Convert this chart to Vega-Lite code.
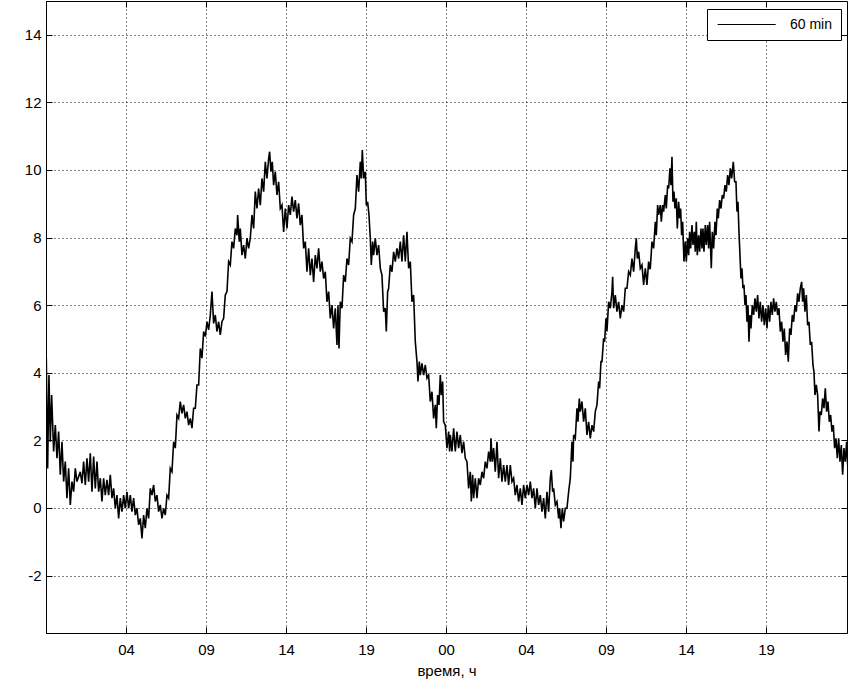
{
"$schema":"https://vega.github.io/schema/vega-lite/v6.json",
"width":801,"height":632,
"autosize":{"type":"none"},
"padding":{"left":46,"top":1,"right":1,"bottom":49},
"background":"white",
"config":{"view":{"stroke":"black","strokeWidth":1},"font":"Liberation Sans"},
"datasets":{"s":[
{"t":0.018,"v":4.43},{"t":0.098,"v":1.17},{"t":0.178,"v":3.93},{"t":0.258,"v":1.96},{"t":0.338,"v":3.34},{"t":0.458,"v":1.67},{"t":0.558,"v":2.45},{"t":0.658,"v":1.47},{"t":0.758,"v":2.26},{"t":0.858,"v":0.98},{"t":0.958,"v":1.96},{"t":1.058,"v":0.78},{"t":1.158,"v":1.37},{"t":1.258,"v":0.29},{"t":1.358,"v":1.17},{"t":1.458,"v":0.09},{"t":1.558,"v":0.78},{"t":1.658,"v":0.48},{"t":1.758,"v":1.17},{"t":1.858,"v":0.78},{"t":2.058,"v":1.07},{"t":2.158,"v":0.73},{"t":2.258,"v":1.37},{"t":2.358,"v":0.68},{"t":2.458,"v":1.47},{"t":2.558,"v":0.78},{"t":2.658,"v":1.62},{"t":2.758,"v":0.48},{"t":2.858,"v":1.52},{"t":2.958,"v":0.58},{"t":3.058,"v":1.37},{"t":3.158,"v":0.48},{"t":3.258,"v":0.88},{"t":3.358,"v":0.19},{"t":3.458,"v":0.88},{"t":3.558,"v":0.38},{"t":3.658,"v":0.83},{"t":3.758,"v":0.38},{"t":3.858,"v":0.98},{"t":3.958,"v":0.29},{"t":4.058,"v":0.58},{"t":4.158,"v":-0.01},{"t":4.258,"v":0.38},{"t":4.358,"v":-0.31},{"t":4.458,"v":0.29},{"t":4.558,"v":-0.11},{"t":4.658,"v":0.38},{"t":4.758,"v":-0.01},{"t":4.858,"v":0.48},{"t":4.958,"v":-0.01},{"t":5.058,"v":0.38},{"t":5.158,"v":-0.11},{"t":5.258,"v":0.29},{"t":5.358,"v":-0.21},{"t":5.458,"v":-0.01},{"t":5.558,"v":-0.5},{"t":5.658,"v":-0.31},{"t":5.758,"v":-0.9},{"t":5.858,"v":-0.21},{"t":5.958,"v":-0.6},{"t":6.058,"v":-0.01},{"t":6.158,"v":-0.31},{"t":6.258,"v":0.58},{"t":6.358,"v":0.38},{"t":6.458,"v":0.68},{"t":6.558,"v":0.19},{"t":6.658,"v":0.38},{"t":6.758,"v":-0.11},{"t":6.858,"v":0.09},{"t":6.958,"v":-0.31},{"t":7.058,"v":-0.01},{"t":7.158,"v":-0.21},{"t":7.258,"v":0.38},{"t":7.358,"v":0.29},{"t":7.458,"v":1.17},{"t":7.558,"v":1.07},{"t":7.658,"v":1.96},{"t":7.758,"v":1.77},{"t":7.858,"v":2.75},{"t":7.958,"v":2.65},{"t":8.058,"v":3.15},{"t":8.158,"v":2.8},{"t":8.258,"v":3.05},{"t":8.358,"v":2.65},{"t":8.458,"v":2.85},{"t":8.558,"v":2.45},{"t":8.658,"v":2.65},{"t":8.758,"v":2.36},{"t":8.858,"v":2.95},{"t":8.958,"v":2.95},{"t":9.058,"v":3.64},{"t":9.158,"v":3.64},{"t":9.258,"v":4.72},{"t":9.358,"v":4.43},{"t":9.458,"v":5.22},{"t":9.558,"v":5.07},{"t":9.658,"v":5.51},{"t":9.758,"v":5.27},{"t":9.858,"v":5.71},{"t":9.958,"v":6.4},{"t":10.058,"v":5.46},{"t":10.158,"v":5.71},{"t":10.258,"v":5.22},{"t":10.358,"v":5.51},{"t":10.458,"v":5.12},{"t":10.558,"v":5.51},{"t":10.658,"v":5.61},{"t":10.758,"v":6.3},{"t":10.858,"v":6.4},{"t":10.958,"v":7.29},{"t":11.058,"v":7.19},{"t":11.158,"v":7.88},{"t":11.258,"v":7.68},{"t":11.358,"v":8.27},{"t":11.458,"v":8.07},{"t":11.498,"v":8.67},{"t":11.598,"v":7.88},{"t":11.658,"v":8.27},{"t":11.758,"v":7.48},{"t":11.858,"v":7.78},{"t":11.958,"v":7.38},{"t":12.058,"v":7.98},{"t":12.158,"v":7.68},
{"t":12.258,"v":7.98},{"t":12.358,"v":8.67},{"t":12.458,"v":8.27},{"t":12.558,"v":9.36},{"t":12.658,"v":8.86},{"t":12.758,"v":9.45},{"t":12.858,"v":8.96},{"t":12.958,"v":9.75},{"t":13.058,"v":9.36},{"t":13.158,"v":10.24},{"t":13.258,"v":9.75},{"t":13.358,"v":10.34},{"t":13.418,"v":10.54},{"t":13.498,"v":9.95},{"t":13.578,"v":10.24},{"t":13.658,"v":9.55},{"t":13.758,"v":9.95},{"t":13.858,"v":9.26},{"t":13.958,"v":9.65},{"t":14.058,"v":8.86},{"t":14.158,"v":8.96},{"t":14.258,"v":8.17},{"t":14.358,"v":8.86},{"t":14.458,"v":8.27},{"t":14.558,"v":8.96},{"t":14.658,"v":8.67},{"t":14.758,"v":9.21},{"t":14.858,"v":8.77},{"t":14.958,"v":9.11},{"t":15.058,"v":8.57},{"t":15.158,"v":9.01},{"t":15.258,"v":8.37},{"t":15.358,"v":8.67},{"t":15.458,"v":7.68},{"t":15.558,"v":7.88},{"t":15.658,"v":6.99},{"t":15.758,"v":7.68},{"t":15.858,"v":6.89},{"t":15.958,"v":7.38},{"t":16.058,"v":6.69},{"t":16.158,"v":7.48},{"t":16.258,"v":7.09},{"t":16.358,"v":7.68},{"t":16.458,"v":6.99},{"t":16.558,"v":7.29},{"t":16.658,"v":6.79},{"t":16.758,"v":6.99},{"t":16.858,"v":6.1},{"t":16.958,"v":6.4},{"t":17.058,"v":5.61},{"t":17.158,"v":6.0},{"t":17.258,"v":5.31},{"t":17.358,"v":5.91},{"t":17.458,"v":4.82},{"t":17.518,"v":6.0},{"t":17.578,"v":4.72},{"t":17.658,"v":6.1},{"t":17.758,"v":5.91},{"t":17.858,"v":6.89},{"t":17.958,"v":6.69},{"t":18.058,"v":7.38},{"t":18.158,"v":7.19},{"t":18.258,"v":7.98},{"t":18.358,"v":7.88},{"t":18.458,"v":8.67},{"t":18.558,"v":8.86},{"t":18.658,"v":9.85},{"t":18.758,"v":9.36},{"t":18.858,"v":10.24},{"t":18.918,"v":9.75},{"t":18.978,"v":10.59},{"t":19.058,"v":9.75},{"t":19.158,"v":9.95},{"t":19.218,"v":8.96},{"t":19.298,"v":9.06},{"t":19.378,"v":8.67},{"t":19.458,"v":7.98},{"t":19.518,"v":7.19},{"t":19.598,"v":7.88},{"t":19.658,"v":7.48},{"t":19.758,"v":7.98},{"t":19.858,"v":7.48},{"t":19.958,"v":7.78},{"t":20.058,"v":7.09},{"t":20.158,"v":6.89},{"t":20.258,"v":5.81},{"t":20.358,"v":5.91},{"t":20.418,"v":5.22},{"t":20.498,"v":6.4},{"t":20.558,"v":6.5},{"t":20.658,"v":7.19},{"t":20.758,"v":6.99},{"t":20.858,"v":7.58},{"t":20.958,"v":7.29},{"t":21.058,"v":7.68},{"t":21.158,"v":7.38},{"t":21.258,"v":7.88},{"t":21.358,"v":7.29},{"t":21.458,"v":8.07},{"t":21.558,"v":7.29},{"t":21.658,"v":8.17},{"t":21.758,"v":7.09},{"t":21.858,"v":7.29},{"t":21.958,"v":6.1},{"t":22.058,"v":6.3},{"t":22.158,"v":4.92},{"t":22.258,"v":4.33},{"t":22.318,"v":3.74},{"t":22.398,"v":4.33},{"t":22.458,"v":3.93},{"t":22.558,"v":4.28},{"t":22.658,"v":3.93},{"t":22.758,"v":4.23},{"t":22.858,"v":3.84},{"t":22.958,"v":3.93},{"t":23.058,"v":3.15},{"t":23.158,"v":3.44},{"t":23.258,"v":2.65},{"t":23.358,"v":3.05},{"t":23.418,"v":2.36},{"t":23.498,"v":3.34},{"t":23.578,"v":3.05},{"t":23.658,"v":3.93},{"t":23.718,"v":3.34},{"t":23.798,"v":3.74},{"t":23.858,"v":2.55},{"t":23.958,"v":2.45},{"t":24.058,"v":1.77},{"t":24.158,"v":2.26},{"t":24.218,"v":1.67},
{"t":24.258,"v":2.16},{"t":24.358,"v":1.67},{"t":24.458,"v":2.36},{"t":24.558,"v":1.67},{"t":24.658,"v":2.26},{"t":24.758,"v":1.77},{"t":24.858,"v":2.16},{"t":24.958,"v":1.62},{"t":25.058,"v":1.96},{"t":25.158,"v":1.47},{"t":25.258,"v":1.37},{"t":25.358,"v":0.58},{"t":25.458,"v":1.07},{"t":25.518,"v":0.19},{"t":25.598,"v":0.98},{"t":25.658,"v":0.29},{"t":25.758,"v":0.88},{"t":25.858,"v":0.29},{"t":25.958,"v":0.88},{"t":26.058,"v":0.68},{"t":26.158,"v":1.07},{"t":26.258,"v":0.88},{"t":26.358,"v":1.37},{"t":26.458,"v":1.17},{"t":26.558,"v":1.67},{"t":26.658,"v":1.37},{"t":26.698,"v":2.06},{"t":26.778,"v":1.37},{"t":26.858,"v":1.77},{"t":26.958,"v":1.07},{"t":27.058,"v":1.96},{"t":27.158,"v":0.88},{"t":27.258,"v":1.47},{"t":27.358,"v":0.78},{"t":27.458,"v":1.27},{"t":27.558,"v":0.78},{"t":27.658,"v":1.27},{"t":27.758,"v":0.68},{"t":27.858,"v":1.27},{"t":27.958,"v":0.78},{"t":28.058,"v":0.88},{"t":28.158,"v":0.38},{"t":28.258,"v":0.68},{"t":28.358,"v":0.19},{"t":28.458,"v":0.58},{"t":28.558,"v":0.09},{"t":28.658,"v":0.68},{"t":28.758,"v":0.29},{"t":28.858,"v":0.68},{"t":28.958,"v":0.38},{"t":29.058,"v":0.78},{"t":29.158,"v":0.29},{"t":29.258,"v":0.58},{"t":29.358,"v":-0.01},{"t":29.458,"v":0.58},{"t":29.558,"v":0.09},{"t":29.658,"v":0.38},{"t":29.758,"v":-0.11},{"t":29.858,"v":0.29},{"t":29.958,"v":-0.31},{"t":30.058,"v":0.48},{"t":30.158,"v":-0.11},{"t":30.258,"v":0.88},{"t":30.318,"v":1.12},{"t":30.398,"v":0.48},{"t":30.458,"v":0.58},{"t":30.558,"v":0.09},{"t":30.658,"v":0.19},{"t":30.758,"v":-0.31},{"t":30.818,"v":-0.01},{"t":30.898,"v":-0.6},{"t":30.978,"v":-0.01},{"t":31.058,"v":-0.4},{"t":31.158,"v":-0.01},{"t":31.258,"v":-0.01},{"t":31.358,"v":0.48},{"t":31.458,"v":0.88},{"t":31.558,"v":1.96},{"t":31.618,"v":1.37},{"t":31.658,"v":2.16},{"t":31.758,"v":2.06},{"t":31.858,"v":2.95},{"t":31.918,"v":2.55},{"t":31.998,"v":3.24},{"t":32.058,"v":2.85},{"t":32.158,"v":3.15},{"t":32.258,"v":2.55},{"t":32.358,"v":2.95},{"t":32.458,"v":2.16},{"t":32.558,"v":2.55},{"t":32.658,"v":2.06},{"t":32.758,"v":2.45},{"t":32.858,"v":2.26},{"t":32.958,"v":2.85},{"t":33.058,"v":3.05},{"t":33.158,"v":3.74},{"t":33.218,"v":3.54},{"t":33.298,"v":4.33},{"t":33.358,"v":4.33},{"t":33.458,"v":5.02},{"t":33.518,"v":4.92},{"t":33.598,"v":5.61},{"t":33.658,"v":5.22},{"t":33.758,"v":6.1},{"t":33.858,"v":5.91},{"t":33.958,"v":6.4},{"t":33.998,"v":6.84},{"t":34.058,"v":5.91},{"t":34.158,"v":6.3},{"t":34.258,"v":5.81},{"t":34.358,"v":6.1},{"t":34.458,"v":5.61},{"t":34.558,"v":6.0},{"t":34.658,"v":5.81},{"t":34.758,"v":6.5},{"t":34.858,"v":6.5},{"t":34.958,"v":6.99},{"t":35.058,"v":6.89},{"t":35.158,"v":7.38},{"t":35.258,"v":6.99},{"t":35.358,"v":7.68},{"t":35.418,"v":7.98},{"t":35.478,"v":7.38},{"t":35.558,"v":7.58},{"t":35.658,"v":7.09},{"t":35.758,"v":7.19},{"t":35.858,"v":6.6},{"t":35.958,"v":7.09},{"t":36.058,"v":6.6},{"t":36.158,"v":7.29},{"t":36.218,"v":7.09},
{"t":36.258,"v":7.09},{"t":36.358,"v":7.88},{"t":36.458,"v":7.68},{"t":36.558,"v":8.47},{"t":36.618,"v":8.07},{"t":36.698,"v":8.96},{"t":36.758,"v":8.67},{"t":36.858,"v":8.96},{"t":36.918,"v":8.47},{"t":36.998,"v":8.96},{"t":37.058,"v":8.77},{"t":37.158,"v":9.26},{"t":37.218,"v":8.86},{"t":37.298,"v":9.55},{"t":37.358,"v":9.45},{"t":37.438,"v":10.05},{"t":37.498,"v":9.55},{"t":37.558,"v":10.39},{"t":37.618,"v":9.06},{"t":37.678,"v":9.36},{"t":37.738,"v":8.86},{"t":37.818,"v":9.16},{"t":37.878,"v":8.27},{"t":37.958,"v":9.06},{"t":38.018,"v":8.57},{"t":38.078,"v":8.86},{"t":38.138,"v":8.07},{"t":38.198,"v":8.47},{"t":38.278,"v":7.29},{"t":38.358,"v":7.88},{"t":38.418,"v":7.29},{"t":38.498,"v":7.98},{"t":38.558,"v":7.48},{"t":38.618,"v":8.17},{"t":38.678,"v":7.68},{"t":38.758,"v":8.37},{"t":38.818,"v":7.78},{"t":38.898,"v":8.17},{"t":38.958,"v":7.58},{"t":39.018,"v":8.47},{"t":39.078,"v":7.48},{"t":39.158,"v":8.07},{"t":39.218,"v":7.58},{"t":39.298,"v":8.27},{"t":39.358,"v":7.68},{"t":39.418,"v":8.27},{"t":39.478,"v":7.58},{"t":39.558,"v":8.37},{"t":39.618,"v":7.78},{"t":39.698,"v":8.37},{"t":39.758,"v":7.68},{"t":39.818,"v":8.47},{"t":39.918,"v":7.09},{"t":39.978,"v":8.17},{"t":40.058,"v":7.68},{"t":40.138,"v":8.47},{"t":40.198,"v":8.07},{"t":40.278,"v":8.86},{"t":40.338,"v":8.57},{"t":40.418,"v":9.11},{"t":40.498,"v":8.86},{"t":40.578,"v":9.26},{"t":40.658,"v":9.16},{"t":40.738,"v":9.55},{"t":40.818,"v":9.36},{"t":40.898,"v":9.85},{"t":40.978,"v":9.55},{"t":41.058,"v":10.05},{"t":41.138,"v":9.75},{"t":41.238,"v":10.24},{"t":41.318,"v":9.65},{"t":41.398,"v":9.65},{"t":41.458,"v":8.77},{"t":41.518,"v":9.06},{"t":41.578,"v":8.17},{"t":41.638,"v":7.48},{"t":41.698,"v":6.79},{"t":41.758,"v":7.09},{"t":41.818,"v":6.5},{"t":41.878,"v":6.6},{"t":41.938,"v":6.0},{"t":41.998,"v":6.3},{"t":42.058,"v":5.51},{"t":42.118,"v":6.0},{"t":42.178,"v":4.92},{"t":42.238,"v":5.71},{"t":42.298,"v":5.31},{"t":42.378,"v":6.0},{"t":42.458,"v":5.71},{"t":42.538,"v":6.2},{"t":42.618,"v":5.81},{"t":42.698,"v":6.3},{"t":42.778,"v":5.61},{"t":42.858,"v":6.1},{"t":42.938,"v":5.51},{"t":43.018,"v":6.0},{"t":43.098,"v":5.41},{"t":43.178,"v":5.91},{"t":43.258,"v":5.31},{"t":43.338,"v":6.0},{"t":43.418,"v":5.51},{"t":43.498,"v":6.1},{"t":43.578,"v":5.71},{"t":43.658,"v":6.2},{"t":43.738,"v":5.81},{"t":43.818,"v":6.1},{"t":43.898,"v":5.71},{"t":43.978,"v":5.91},{"t":44.058,"v":5.22},{"t":44.138,"v":5.51},{"t":44.218,"v":4.92},{"t":44.298,"v":5.31},{"t":44.378,"v":4.53},{"t":44.458,"v":4.92},{"t":44.538,"v":4.33},{"t":44.618,"v":5.31},{"t":44.698,"v":5.12},{"t":44.778,"v":5.71},{"t":44.858,"v":5.51},{"t":44.938,"v":6.0},{"t":45.018,"v":5.81},{"t":45.098,"v":6.35},{"t":45.178,"v":6.1},{"t":45.258,"v":6.5},{"t":45.338,"v":6.69},{"t":45.398,"v":6.1},{"t":45.458,"v":6.5},{"t":45.538,"v":5.81},{"t":45.618,"v":6.3},{"t":45.698,"v":5.41},{"t":45.778,"v":5.51},{"t":45.858,"v":4.82},{"t":45.938,"v":4.92},{"t":46.018,"v":4.23},{"t":46.078,"v":4.03},{"t":46.138,"v":3.34},{"t":46.218,"v":3.64},{"t":46.298,"v":3.34},{"t":46.378,"v":2.26},{"t":46.438,"v":2.85},{"t":46.518,"v":2.75},{"t":46.598,"v":3.24},{"t":46.678,"v":2.95},{"t":46.758,"v":3.54},{"t":46.838,"v":2.85},{"t":46.918,"v":3.15},{"t":46.998,"v":2.55},{"t":47.078,"v":2.75},{"t":47.158,"v":2.26},{"t":47.238,"v":2.45},{"t":47.318,"v":1.77},{"t":47.398,"v":2.06},{"t":47.478,"v":1.47},{"t":47.558,"v":2.06},{"t":47.638,"v":1.37},{"t":47.718,"v":1.86},{"t":47.798,"v":0.98},{"t":47.878,"v":1.77},{"t":47.958,"v":1.37},{"t":48.038,"v":1.96},{"t":48.098,"v":1.27}
]},
"data":{"name":"s"},
"resolve":{"axis":{"x":"independent","y":"independent"}},
"layer":[
{"mark":{"type":"line","strokeWidth":1.6,"clip":true},
"encoding":{
"x":{"field":"t","type":"quantitative","scale":{"domain":[0,48.06],"nice":false,"zero":false},
"axis":{"orient":"bottom","values":[4.8,9.6,14.4,19.2,24,28.8,33.6,38.4,43.2],"labelExpr":"pad(toString(floor(datum.value % 24)), 2, '0', 'left')","title":"время, ч","titleFont":"Liberation Sans","titleFontSize":15,"titleFontWeight":"normal","titleColor":"black","titlePadding":6,"labelFont":"Liberation Sans","labelFontSize":15,"labelColor":"black","labelPadding":15,"tickSize":-6,"tickColor":"black","domainColor":"black","grid":true,"gridColor":"black","gridDash":[1,3],"gridOpacity":1,"labelFlush":false}},
"y":{"field":"v","type":"quantitative","scale":{"domain":[-3.7,15],"nice":false,"zero":false},
"axis":{"orient":"left","values":[-2,0,2,4,6,8,10,12,14],"labelExpr":"toString(datum.value)","title":null,"labelFont":"Liberation Sans","labelFontSize":15,"labelColor":"black","labelPadding":11,"tickSize":-6,"tickColor":"black","domainColor":"black","grid":true,"gridColor":"black","gridDash":[1,3],"gridOpacity":1}},
"color":{"datum":"60 min","type":"nominal","scale":{"range":["black"]},
"legend":{"orient":"none","legendX":661,"legendY":8,"title":null,"strokeColor":"black","fillColor":"white","padding":8,"symbolType":"M-0.7,0H7.6","symbolSize":196,"symbolStrokeWidth":1,"symbolStrokeColor":"black","symbolFillColor":"transparent","labelFont":"Liberation Sans","labelFontSize":14,"labelColor":"black","labelOffset":60,"cornerRadius":0}}
}},
{"mark":{"type":"line","strokeOpacity":0,"clip":true},
"encoding":{
"x":{"field":"t","type":"quantitative","scale":{"domain":[0,48.06],"nice":false,"zero":false},
"axis":{"orient":"top","values":[4.8,9.6,14.4,19.2,24,28.8,33.6,38.4,43.2],"labels":false,"title":null,"tickSize":-6,"tickColor":"black","domain":false,"grid":false}},
"y":{"field":"v","type":"quantitative","scale":{"domain":[-3.7,15],"nice":false,"zero":false},
"axis":{"orient":"right","values":[-2,0,2,4,6,8,10,12,14],"labels":false,"title":null,"tickSize":-6,"tickColor":"black","domain":false,"grid":false}}
}}
]
}
